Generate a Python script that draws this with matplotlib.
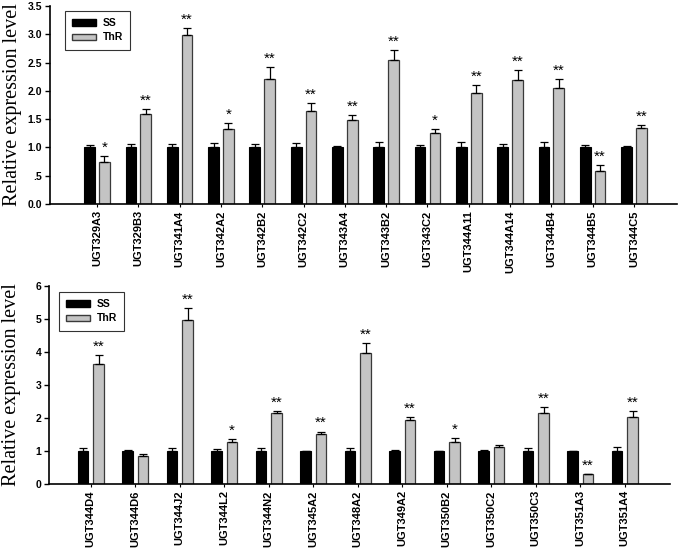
import matplotlib
matplotlib.use("Agg")
import matplotlib.pyplot as plt
import numpy as np
from matplotlib.patches import Patch

# ---- data ----
genes_top = ["UGT329A3", "UGT329B3", "UGT341A4", "UGT342A2", "UGT342B2", "UGT342C2",
             "UGT343A4", "UGT343B2", "UGT343C2", "UGT344A11", "UGT344A14", "UGT344B4",
             "UGT344B5", "UGT344C5"]
ss_top = [1.0] * 14
ss_err_top = [0.05, 0.06, 0.06, 0.08, 0.06, 0.08, 0.02, 0.09, 0.05, 0.09, 0.06, 0.09, 0.05, 0.02]
thr_top = [0.75, 1.59, 2.99, 1.33, 2.21, 1.65, 1.48, 2.54, 1.26, 1.96, 2.19, 2.05, 0.58, 1.34]
thr_err_top = [0.10, 0.09, 0.13, 0.11, 0.21, 0.14, 0.10, 0.19, 0.06, 0.14, 0.18, 0.16, 0.11, 0.05]
sig_top = ["*", "**", "**", "*", "**", "**", "**", "**", "*", "**", "**", "**", "**", "**"]
yticks_top = [0.0, 0.5, 1.0, 1.5, 2.0, 2.5, 3.0, 3.5]
yticklabels_top = ["0.0", ".5", "1.0", "1.5", "2.0", "2.5", "3.0", "3.5"]

genes_bot = ["UGT344D4", "UGT344D6", "UGT344J2", "UGT344L2", "UGT344N2", "UGT345A2",
             "UGT348A2", "UGT349A2", "UGT350B2", "UGT350C2", "UGT350C3", "UGT351A3", "UGT351A4"]
ss_bot = [1.0] * 13
ss_err_bot = [0.08, 0.04, 0.08, 0.07, 0.08, 0.01, 0.08, 0.03, 0.01, 0.03, 0.08, 0.01, 0.11]
thr_bot = [3.64, 0.86, 4.97, 1.28, 2.15, 1.52, 3.96, 1.94, 1.26, 1.12, 2.15, 0.29, 2.02]
thr_err_bot = [0.28, 0.05, 0.35, 0.07, 0.06, 0.07, 0.30, 0.09, 0.14, 0.05, 0.18, 0.01, 0.18]
sig_bot = ["**", "", "**", "*", "**", "**", "**", "**", "*", "", "**", "**", "**"]
yticks_bot = [0, 1, 2, 3, 4, 5, 6]
yticklabels_bot = ["0", "1", "2", "3", "4", "5", "6"]

SS_COLOR = "black"
THR_COLOR = "#c4c4c4"
THR_EDGE = "#3a3a3a"

fig = plt.figure(figsize=(6.8, 5.52), dpi=100)
ax1 = fig.add_axes([0.0735, 0.6304, 0.922, 0.3587])
ax2 = fig.add_axes([0.072, 0.1232, 0.913, 0.3587])


def draw(ax, genes, ss, ss_err, thr, thr_err, sig, ymax, yt, ytl, xlim, bw, off, ystar, legpos):
    x = np.arange(len(genes))
    ax.bar(x - off, ss, bw, color=SS_COLOR, edgecolor="black", linewidth=0.8,
           yerr=[np.zeros(len(ss)), ss_err], error_kw=dict(ecolor="black", elinewidth=0.9,
                                                            capsize=3, capthick=0.9))
    ax.bar(x + off, thr, bw, color=THR_COLOR, edgecolor=THR_EDGE, linewidth=0.9,
           yerr=[np.zeros(len(thr)), thr_err], error_kw=dict(ecolor="black", elinewidth=0.9,
                                                              capsize=3, capthick=0.9))
    for xi, v, e, s in zip(x, thr, thr_err, sig):
        if s:
            ax.text(xi + off, v + e + ystar, s, ha="center", va="bottom",
                    fontsize=11, family="Liberation Sans", color="black")
    ax.set_xlim(*xlim)
    ax.set_ylim(0, ymax)
    ax.set_yticks(yt)
    ax.set_yticklabels(ytl, fontsize=7.5, fontweight="bold", family="Liberation Sans")
    ax.set_xticks(x)
    ax.set_xticklabels(genes, rotation=90, fontsize=8, fontweight="bold",
                       family="Liberation Sans")
    ax.tick_params(axis="y", direction="out", length=3.5, width=1, pad=2)
    ax.tick_params(axis="x", direction="out", length=2.5, width=0.8, pad=2)
    for sp in ["top", "right"]:
        ax.spines[sp].set_visible(False)
    for sp in ["left", "bottom"]:
        ax.spines[sp].set_linewidth(1.2)
    ax.set_ylabel("Relative expression level", family="Liberation Serif", fontsize=14.5)
    handles = [Patch(facecolor=SS_COLOR, edgecolor="black", label="SS"),
               Patch(facecolor=THR_COLOR, edgecolor=THR_EDGE, label="ThR")]
    leg = ax.legend(handles=handles, loc="upper left", bbox_to_anchor=legpos,
                    prop=dict(family="Liberation Sans", weight="bold", size=7.5),
                    frameon=True, fancybox=False, edgecolor="black", handlelength=2.3,
                    handleheight=0.55, borderpad=0.7, labelspacing=0.4, handletextpad=0.6,
                    borderaxespad=0)
    leg.get_frame().set_linewidth(0.8)


draw(ax1, genes_top, ss_top, ss_err_top, thr_top, thr_err_top, sig_top, 3.5,
     yticks_top, yticklabels_top, (-1.14, 14.04), 0.26, 0.18, 0.02, (0.024, 0.975))
draw(ax2, genes_bot, ss_bot, ss_err_bot, thr_bot, thr_err_bot, sig_bot, 6,
     yticks_bot, yticklabels_bot, (-0.94, 13.01), 0.24, 0.175, 0.04, (0.016, 0.97))

ax1.yaxis.set_label_coords(-0.045, 0.5)
ax2.yaxis.set_label_coords(-0.045, 0.5)

fig.savefig("out.png", dpi=100)
